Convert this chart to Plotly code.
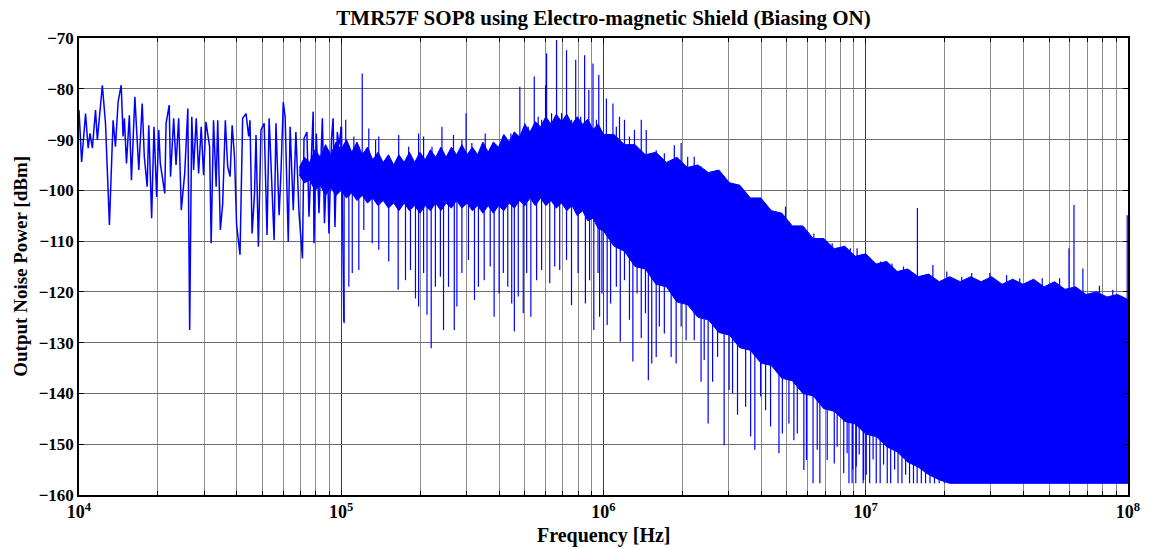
import numpy as np
import plotly.graph_objects as go

TITLE = "TMR57F SOP8 using Electro-magnetic Shield (Biasing ON)"
X_TITLE = "Frequency [Hz]"
Y_TITLE = "Output Noise Power [dBm]"

# ---- low-frequency trace (log10 of frequency in Hz, level in dBm) ----
lf_log_f = [
    4.000, 4.010, 4.025, 4.035, 4.042, 4.051, 4.063, 4.070, 4.089, 4.101,
    4.116, 4.130, 4.139, 4.149, 4.161, 4.168, 4.173, 4.181, 4.192, 4.200,
    4.213, 4.222, 4.228, 4.241, 4.249, 4.260, 4.266, 4.277, 4.286, 4.296,
    4.304, 4.310, 4.327, 4.332, 4.344, 4.349, 4.361, 4.370, 4.380, 4.390,
    4.403, 4.415, 4.422, 4.430, 4.437, 4.447, 4.456, 4.466, 4.475, 4.484,
    4.498, 4.504, 4.513, 4.523, 4.529, 4.539, 4.548, 4.558, 4.567, 4.576,
    4.584, 4.593, 4.601, 4.614, 4.624, 4.637, 4.647, 4.652, 4.660, 4.669,
    4.675, 4.684, 4.694, 4.706, 4.717, 4.725, 4.738, 4.744, 4.751, 4.763,
    4.770, 4.779, 4.786, 4.798, 4.805, 4.817, 4.827, 4.833, 4.839, 4.852,
    4.858, 4.869, 4.877, 4.893, 4.896, 4.905, 4.915, 4.928, 4.936, 4.947,
    4.953, 4.963, 4.969, 4.976, 4.985, 4.991, 5.001, 5.010,
]
lf_db = [
    -84.2, -94.4, -84.9, -91.7, -88.8, -91.7, -84.2, -90.1, -79.3, -86.8,
    -106.8, -86.2, -91.4, -82.6, -79.3, -89.4, -85.8, -94.7, -85.2, -98.0,
    -81.6, -92.1, -96.0, -82.9, -93.4, -99.3, -87.2, -105.5, -87.5, -101.3,
    -88.1, -94.7, -100.6, -86.8, -83.2, -97.3, -85.8, -95.0, -85.8, -103.9,
    -96.7, -83.9, -127.5, -85.5, -96.0, -85.8, -96.7, -87.5, -97.0, -86.5,
    -91.4, -110.4, -86.2, -99.3, -86.2, -107.8, -102.6, -86.2, -95.4, -97.3,
    -87.2, -93.4, -106.8, -112.7, -85.8, -84.9, -89.4, -86.2, -108.5, -100.9,
    -89.1, -111.1, -88.1, -86.8, -108.8, -85.8, -101.6, -109.8, -86.8, -104.9,
    -96.7, -82.6, -85.5, -110.1, -87.5, -103.9, -88.5, -96.0, -104.5, -113.4,
    -89.8, -88.5, -105.2, -84.5, -110.4, -88.8, -104.5, -85.8, -106.5, -92.1,
    -108.5, -89.8, -85.8, -107.2, -88.5, -91.1, -87.5, -125.9,
]

# ---- dense band: core envelope (log10 f, top dBm, bottom dBm) ----
band_log = [
    4.84, 4.86, 4.88, 4.90, 4.92, 4.94, 4.96, 4.98, 5.00, 5.02,
    5.04, 5.06, 5.08, 5.10, 5.12, 5.14, 5.16, 5.18, 5.20, 5.22,
    5.24, 5.26, 5.28, 5.30, 5.32, 5.34, 5.36, 5.38, 5.40, 5.42,
    5.44, 5.46, 5.48, 5.50, 5.52, 5.54, 5.56, 5.58, 5.60, 5.62,
    5.64, 5.66, 5.68, 5.70, 5.72, 5.74, 5.76, 5.78, 5.80, 5.82,
    5.84, 5.86, 5.88, 5.90, 5.92, 5.94, 5.96, 5.98, 6.00,
    6.04, 6.08, 6.12, 6.16, 6.20, 6.24, 6.28, 6.32, 6.36, 6.40,
    6.44, 6.48, 6.52, 6.56, 6.60, 6.64, 6.68, 6.72, 6.76, 6.80,
    6.84, 6.88, 6.92, 6.96, 7.00, 7.04, 7.08, 7.12, 7.16, 7.20,
    7.24, 7.28, 7.32, 7.36, 7.40, 7.44, 7.48, 7.52, 7.56, 7.60,
    7.64, 7.68, 7.72, 7.76, 7.80, 7.84, 7.88, 7.92, 7.96, 8.00,
]
band_top = [
    -95.5, -93.5, -94.5, -92.0, -93.5, -91.0, -93.0, -90.5, -92.0, -90.0,
    -92.5, -90.5, -93.0, -91.5, -94.0, -92.5, -94.5, -93.0, -95.0, -93.0,
    -94.5, -92.5, -94.5, -92.5, -94.0, -92.0, -93.5, -91.5, -93.5, -91.5,
    -93.0, -91.0, -93.0, -91.5, -93.0, -90.5, -92.5, -90.5, -91.5, -89.0,
    -90.5, -88.5, -89.5, -87.0, -88.5, -86.5, -87.5, -85.5, -87.0, -85.0,
    -86.5, -85.0, -87.0, -85.5, -87.0, -86.0, -88.0, -87.0, -89.0,
    -89.0, -91.0, -91.0, -93.0, -92.5, -94.5, -93.5, -95.5, -95.0, -96.5,
    -96.0, -98.5, -99.0, -101.5, -101.5, -104.0, -104.5, -107.0, -107.0, -109.5,
    -109.5, -111.5, -111.0, -113.0, -112.5, -114.5, -114.0, -116.0, -115.5, -117.0,
    -116.5, -118.0, -117.0, -118.0, -117.0, -118.0, -117.0, -118.5, -117.5, -118.5,
    -117.5, -119.0, -118.0, -119.5, -119.0, -120.5, -120.0, -121.0, -120.5, -121.5,
]
band_bot = [
    -97.0, -98.5, -98.0, -100.0, -99.0, -101.0, -99.5, -101.0, -100.0, -101.5,
    -100.5, -102.0, -101.0, -102.5, -101.5, -103.0, -102.0, -103.5, -102.5, -104.0,
    -102.5, -104.0, -103.0, -104.5, -103.0, -104.0, -102.5, -104.0, -102.5, -103.5,
    -102.0, -103.5, -102.5, -104.0, -103.0, -104.5, -103.0, -104.5, -103.0, -104.0,
    -102.5, -103.5, -102.0, -103.0, -101.5, -103.0, -101.5, -103.0, -102.0, -103.5,
    -102.5, -104.0, -103.0, -105.0, -104.0, -106.0, -105.5, -107.5, -108.0,
    -111.0, -112.0, -115.0, -115.5, -118.5, -119.0, -122.0, -122.5, -125.0, -125.5,
    -128.0, -128.5, -131.0, -131.5, -134.0, -134.5, -137.0, -137.5, -140.0, -140.5,
    -143.0, -143.5, -145.5, -146.0, -148.0, -148.5, -150.5, -151.5, -153.5, -154.5,
    -156.0, -157.0, -157.7, -157.7, -157.7, -157.7, -157.7, -157.7, -157.7, -157.7,
    -157.7, -157.7, -157.7, -157.7, -157.7, -157.7, -157.7, -157.7, -157.7, -157.7,
]

# ---- upward spikes above the band (log10 f, peak dBm) ----
up_log = [
    4.998, 5.017, 5.048, 5.080, 5.105, 5.131, 5.143, 5.219, 5.257, 5.295,
    5.314, 5.346, 5.384, 5.428, 5.460, 5.476, 5.498, 5.549, 5.587, 5.612,
    5.647, 5.681, 5.700, 5.713, 5.736, 5.751, 5.764, 5.779, 5.783, 5.802,
    5.821, 5.840, 5.859, 5.878, 5.894, 5.913, 5.928, 5.944, 5.960, 5.973,
    5.982, 6.011, 6.036, 6.049, 6.061, 6.080, 6.099, 6.118, 6.144, 6.163,
    6.201, 6.232, 6.270, 6.296, 6.321, 6.346, 6.372, 6.409, 6.447, 6.466,
    6.498, 6.536, 6.574, 6.599, 6.637, 6.663, 6.694, 6.726, 6.764, 6.802,
    6.840, 6.872, 6.903, 6.941, 6.979, 6.967, 7.005, 7.056, 7.100, 7.144,
    7.197, 7.256, 7.309, 7.366, 7.404, 7.473, 7.537, 7.587, 7.673, 7.739,
    7.775, 7.794, 7.828, 7.891, 7.942, 7.997,
]
up_db = [
    -87.5, -86.1, -89.4, -77.0, -87.8, -90.1, -89.4, -89.1, -91.4, -88.8,
    -89.4, -91.4, -87.5, -89.1, -90.1, -84.8, -90.7, -88.8, -91.4, -90.1,
    -88.8, -79.6, -86.8, -87.5, -77.6, -85.5, -86.1, -79.3, -73.0, -84.8,
    -70.4, -84.8, -72.4, -86.1, -74.3, -85.5, -73.4, -80.2, -75.0, -86.1,
    -77.3, -81.9, -82.9, -87.5, -85.5, -86.1, -89.4, -88.1, -86.1, -88.1,
    -92.1, -92.7, -91.1, -90.7, -93.4, -93.4, -95.3, -96.6, -96.6, -98.6,
    -99.3, -101.2, -101.9, -103.2, -104.5, -104.5, -103.2, -107.2, -108.1, -108.5,
    -109.8, -110.4, -111.7, -111.4, -112.7, -111.4, -112.7, -114.0, -114.4, -115.0,
    -103.5, -114.7, -116.0, -117.0, -116.3, -116.3, -116.7, -117.3, -117.3, -117.3,
    -111.4, -102.9, -115.4, -118.8, -119.6, -104.9,
]

# ---- downward spikes below the band (log10 f, minimum dBm) ----
down_log = [
    5.011, 5.029, 5.042, 5.067, 5.086, 5.118, 5.143, 5.181, 5.217, 5.245,
    5.264, 5.283, 5.295, 5.314, 5.327, 5.343, 5.359, 5.378, 5.390, 5.409,
    5.431, 5.441, 5.460, 5.485, 5.508, 5.523, 5.545, 5.568, 5.583, 5.602,
    5.618, 5.635, 5.650, 5.660, 5.675, 5.694, 5.707, 5.723, 5.745, 5.764,
    5.795, 5.814, 5.833, 5.859, 5.878, 5.903, 5.931, 5.947, 5.963, 5.979,
    5.985, 5.994, 6.014, 6.027, 6.049, 6.064, 6.080, 6.099, 6.112, 6.128,
    6.144, 6.160, 6.171, 6.184, 6.201, 6.213, 6.232, 6.258, 6.277, 6.296,
    6.315, 6.346, 6.372, 6.384, 6.399, 6.416, 6.435, 6.460, 6.479, 6.492,
    6.511, 6.542, 6.561, 6.577, 6.599, 6.618, 6.637, 6.669, 6.682, 6.707,
    6.726, 6.739, 6.764, 6.774, 6.799, 6.815, 6.825, 6.853, 6.880, 6.891,
    6.916, 6.929, 6.948, 6.964, 6.992,
    6.936, 6.950, 6.962, 6.975, 6.990, 7.002, 7.015, 7.028, 7.040, 7.055,
    7.068, 7.082, 7.095, 7.110, 7.123, 7.138, 7.152, 7.167, 7.182, 7.196,
    7.212, 7.228, 7.245, 7.262, 7.280, 7.300,
]
down_db = [
    -126.2, -119.0, -116.3, -115.7, -107.8, -110.4, -111.7, -114.0, -119.6, -117.7,
    -115.7, -121.3, -122.9, -116.3, -124.5, -131.1, -119.0, -117.0, -127.5, -119.0,
    -127.5, -122.9, -116.3, -113.7, -121.6, -119.0, -117.7, -115.0, -124.9, -120.3,
    -116.3, -119.0, -122.3, -127.8, -120.9, -124.2, -116.3, -124.9, -117.7, -115.7,
    -118.3, -115.0, -115.7, -113.7, -122.6, -116.3, -122.3, -117.7, -127.5, -116.3,
    -124.9, -120.3, -126.5, -122.3, -119.0, -129.8, -117.7, -125.5, -133.7, -120.3,
    -129.1, -124.2, -137.4, -134.1, -132.8, -126.8, -128.2, -132.8, -134.1, -126.8,
    -129.5, -129.5, -137.7, -133.4, -145.9, -137.7, -132.8, -150.2, -139.3, -140.0,
    -144.2, -142.6, -148.5, -151.1, -140.6, -143.3, -146.5, -151.8, -147.9, -145.9,
    -149.2, -147.9, -155.1, -153.1, -157.7, -151.1, -157.7, -153.1, -153.8, -150.5,
    -155.7, -151.8, -157.7, -154.4, -157.0,
    -157.7, -155.0, -157.7, -152.0, -157.7, -156.0, -157.7, -153.0, -157.7, -157.7,
    -154.0, -157.7, -157.7, -155.0, -157.7, -157.7, -156.0, -157.7, -157.7, -157.7,
    -157.7, -157.7, -157.7, -157.7, -157.7, -157.7,
]

# ---- axis ticks ----
decades = [1e4, 1e5, 1e6, 1e7, 1e8]
decade_labels = ["10<sup>4</sup>", "10<sup>5</sup>", "10<sup>6</sup>", "10<sup>7</sup>", "10<sup>8</sup>"]
minor_mult = [2, 3, 4, 5, 6, 7, 8, 9]
y_ticks = [-160, -150, -140, -130, -120, -110, -100, -90, -80, -70]

BLUE = "#0000ff"
FONT = "Liberation Serif"

fig = go.Figure()

# band polygon
blog = np.array(band_log)
poly_x = np.concatenate([10 ** blog, (10 ** blog)[::-1]])
poly_y = np.concatenate([np.array(band_top), np.array(band_bot)[::-1]])
fig.add_trace(go.Scatter(x=poly_x, y=poly_y, mode="lines", fill="toself",
                         fillcolor=BLUE, line=dict(color=BLUE, width=1),
                         hoverinfo="skip", showlegend=False))

# upward spikes
ux, uy = [], []
for lg, v in zip(up_log, up_db):
    base = float(np.interp(lg, band_log, band_bot))
    f = 10 ** lg
    ux += [f, f, None]
    uy += [v, base, None]
fig.add_trace(go.Scatter(x=ux, y=uy, mode="lines", line=dict(color=BLUE, width=1.2),
                         hoverinfo="skip", showlegend=False))

# downward spikes
dx, dy = [], []
for lg, v in zip(down_log, down_db):
    base = float(np.interp(lg, band_log, band_top))
    f = 10 ** lg
    dx += [f, f, None]
    dy += [v, base, None]
fig.add_trace(go.Scatter(x=dx, y=dy, mode="lines", line=dict(color=BLUE, width=1.2),
                         hoverinfo="skip", showlegend=False))

# low-frequency trace
fig.add_trace(go.Scatter(x=10 ** np.array(lf_log_f), y=lf_db, mode="lines",
                         line=dict(color=BLUE, width=1.5), showlegend=False))

minor_vals = [m * d for d in decades[:-1] for m in minor_mult]

fig.update_layout(
    width=1152, height=549,
    margin=dict(l=79, r=20, t=38, b=54),
    paper_bgcolor="white", plot_bgcolor="white",
    font=dict(family=FONT, color="black"),
    title=dict(text=TITLE, x=0.5, xref="paper", y=1 - 18 / 549, yref="container",
               xanchor="center", yanchor="middle",
               font=dict(family=FONT, size=21, weight="bold", color="black")),
    xaxis=dict(type="log", range=[4, 8], tickmode="array", tickvals=decades,
               ticktext=decade_labels, showgrid=True, gridcolor="#3c3c3c", gridwidth=1,
               ticks="inside", ticklen=5, tickcolor="black",
               showline=True, linecolor="black", linewidth=1.5, mirror="ticks",
               zeroline=False,
               minor=dict(tickmode="array", tickvals=minor_vals, showgrid=True,
                          gridcolor="#8c8c8c", gridwidth=1, ticks="inside", ticklen=4,
                          tickcolor="black"),
               tickfont=dict(family=FONT, size=18, weight="bold", color="black")),
    yaxis=dict(range=[-160, -70], tickmode="array", tickvals=y_ticks,
               showgrid=True, gridcolor="#6e6e6e", gridwidth=1,
               ticks="inside", ticklen=5, tickcolor="black",
               showline=True, linecolor="black", linewidth=1.5, mirror="ticks",
               zeroline=False,
               tickfont=dict(family=FONT, size=17, weight="bold", color="black")),
    annotations=[
        dict(text=X_TITLE, xref="paper", yref="paper", x=0.5, y=-(535 - 495) / 457,
             xanchor="center", yanchor="middle", showarrow=False,
             font=dict(family=FONT, size=20, weight="bold", color="black")),
        dict(text=Y_TITLE, xref="paper", yref="paper", x=-(79 - 20) / 1053, y=0.5,
             xanchor="center", yanchor="middle", textangle=-90, showarrow=False,
             font=dict(family=FONT, size=19, weight="bold", color="black")),
    ],
)

fig.write_html("out.html", config={"displayModeBar": False},
               post_script="document.body.style.margin='0px';")
